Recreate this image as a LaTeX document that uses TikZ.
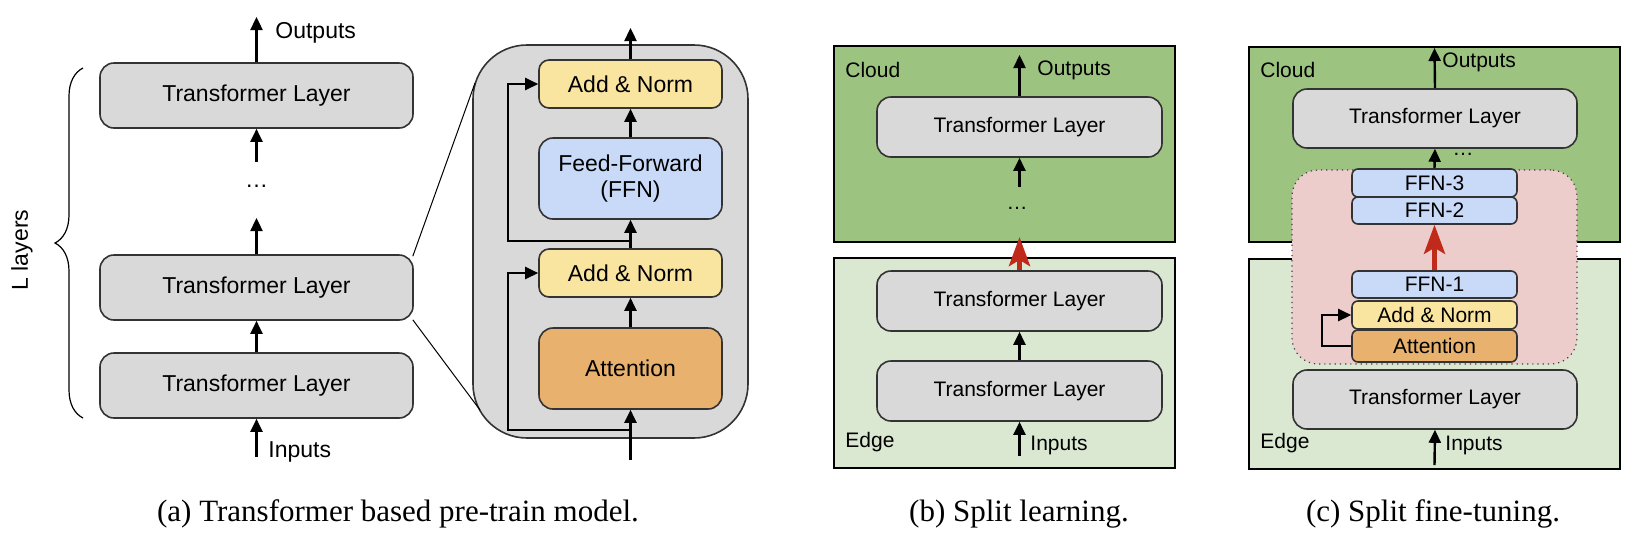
\documentclass[tikz,border=0pt]{standalone}
\usepackage{fontspec}
\setmainfont{Liberation Serif}
\setsansfont{Liberation Sans}
\usetikzlibrary{arrows.meta,decorations.pathreplacing,calc}
\definecolor{tlgray}{HTML}{D9D9D9}
\definecolor{anyel}{HTML}{F9E4A0}
\definecolor{ffnblue}{HTML}{C9DAF8}
\definecolor{attor}{HTML}{E8B16E}
\definecolor{cloudg}{HTML}{9DC381}
\definecolor{edgeg}{HTML}{DAE8D2}
\definecolor{pinkr}{HTML}{ECCDCB}
\definecolor{redc}{HTML}{C02A1A}
\begin{document}
\begin{tikzpicture}[x=0.5pt,y=-0.5pt,
  fa/.style={font=\sffamily\fontsize{11.5}{13}\selectfont},
  fb/.style={font=\sffamily\fontsize{10.5}{12}\selectfont},
  blk/.style={draw=black!80, line width=0.8pt, inner sep=0pt, align=center},
  tl/.style={blk, fill=tlgray, rounded corners=7pt},
  arr/.style={-{Triangle[length=6.5pt,width=6pt]}, line width=1.2pt},
  redarr/.style={-{Stealth[length=14.5pt,width=10.5pt,inset=3pt]}, line width=2.4pt, draw=redc},
  panel/.style={draw=black, line width=1.2pt, inner sep=0pt},
  captxt/.style={font=\fontsize{15.5}{18}\selectfont}
]
\useasboundingbox (0,0) rectangle (1649,537);

% ---------------- panel (a) ----------------
\node[tl, fa, minimum width=156.5pt, minimum height=32.5pt] (tlA3) at (256.5,95.5) {Transformer Layer};
\node[tl, fa, minimum width=156.5pt, minimum height=32.5pt] (tlA2) at (256.5,287.5) {Transformer Layer};
\node[tl, fa, minimum width=156.5pt, minimum height=32.5pt] (tlA1) at (256.5,385.5) {Transformer Layer};
\node[fa, inner sep=0pt] (dotsA) at (256.5,186) {\ldots};
\coordinate (dA1) at (256.5,162);
\coordinate (dA2) at (256.5,218);
\coordinate (outA) at (256.5,17);
\coordinate (inA) at (256.5,457);
\draw[arr] (tlA3.north) -- (outA);
\draw[arr] (dA1) -- (tlA3.south);
\draw[arr] (tlA2.north) -- (dA2);
\draw[arr] (tlA1.north) -- (tlA2.south);
\draw[arr] (inA) -- (tlA1.south);
\node[fa, anchor=west, inner sep=0pt] (outLA) at (275,33) {Outputs};
\node[fa, anchor=west, inner sep=0pt] (inLA) at (268,452) {Inputs};
\node[fa, rotate=90, inner sep=0pt] (lLay) at (22,250) {L layers};
\coordinate (brB) at (83,418);
\coordinate (brT) at (83,68);
\draw[decorate, decoration={brace, amplitude=14pt}, line width=0.6pt] (brB) -- (brT);

% zoomed block
\node[draw=black!80, line width=0.8pt, fill=tlgray, rounded corners=27pt, minimum width=137.5pt, minimum height=196.5pt, inner sep=0pt] (bigA) at (610.5,241.5) {};
\coordinate (zT) at (475,83);
\coordinate (zB) at (480,410);
\draw[line width=0.5pt] (tlA2.north east) ++(-1,2) -- (zT);
\draw[line width=0.5pt] (tlA2.south east) ++(-1,-1) -- (zB);

\node[blk, fill=anyel, rounded corners=5pt, fa, minimum width=91.5pt, minimum height=24pt] (an1) at (630.5,84) {Add \& Norm};
\node[blk, fill=ffnblue, rounded corners=7pt, fa, minimum width=91.5pt, minimum height=40.5pt] (ffn) at (630.5,178.5) {Feed-Forward\\(FFN)};
\node[blk, fill=anyel, rounded corners=5pt, fa, minimum width=91.5pt, minimum height=24pt] (an2) at (630.5,273) {Add \& Norm};
\node[blk, fill=attor, rounded corners=7pt, fa, minimum width=91.5pt, minimum height=40.5pt] (att) at (630.5,368.5) {Attention};
\coordinate (outZ) at (630.5,28);
\coordinate (inZ) at (630.5,460);
\coordinate (r1) at (630.5,430);
\coordinate (r2) at (630.5,241);
\draw[arr] (an1.north) -- (outZ);
\draw[arr] (ffn.north) -- (an1.south);
\draw[arr] (an2.north) -- (ffn.south);
\draw[arr] (att.north) -- (an2.south);
\draw[arr] (inZ) -- (att.south);
\draw[arr] (r1) -- ++(-122.5,0) |- (an2.west);
\draw[arr] (r2) -- ++(-122.5,0) |- (an1.west);

% ---------------- panel (b) ----------------
\node[panel, fill=cloudg, minimum width=170.5pt, minimum height=98pt] (cloudB) at (1004.5,144) {};
\node[panel, fill=edgeg, minimum width=170.5pt, minimum height=105pt] (edgeB) at (1004.5,363) {};
\node[fb, anchor=west, inner sep=0pt] (cloudLB) at (845,70) {Cloud};
\node[fb, anchor=west, inner sep=0pt] (edgeLB) at (845,442) {Edge};
\node[tl, fb, minimum width=142.5pt, minimum height=30pt] (tlB3) at (1019.5,127) {Transformer Layer};
\node[tl, fb, minimum width=142.5pt, minimum height=30pt] (tlB2) at (1019.5,301) {Transformer Layer};
\node[tl, fb, minimum width=142.5pt, minimum height=30pt] (tlB1) at (1019.5,391) {Transformer Layer};
\node[fb, inner sep=0pt] (dotsB) at (1017,208) {\ldots};
\coordinate (outB) at (1019.5,55);
\coordinate (dB1) at (1019.5,187);
\coordinate (redB) at (1019.5,237);
\coordinate (inB) at (1019.5,456);
\draw[arr] (tlB3.north) -- (outB);
\draw[arr] (dB1) -- (tlB3.south);
\draw[redarr] (tlB2.north) -- (redB);
\draw[arr] (tlB1.north) -- (tlB2.south);
\draw[arr] (inB) -- (tlB1.south);
\node[fb, anchor=west, inner sep=0pt] (outLB) at (1037,70) {Outputs};
\node[fb, anchor=west, inner sep=0pt] (inLB) at (1030,445) {Inputs};

% ---------------- panel (c) ----------------
\node[panel, fill=cloudg, minimum width=185.5pt, minimum height=97.5pt] (cloudC) at (1434.5,144.5) {};
\node[panel, fill=edgeg, minimum width=185.5pt, minimum height=105pt] (edgeC) at (1434.5,364) {};
\node[fb, anchor=west, inner sep=0pt] (cloudLC) at (1260,70) {Cloud};
\node[fb, anchor=west, inner sep=0pt] (edgeLC) at (1260,443) {Edge};
\node[draw=black!75, dotted, line width=0.6pt, fill=pinkr, rounded corners=13pt, minimum width=142.5pt, minimum height=97pt, inner sep=0pt] (pinkC) at (1434.5,267) {};
\node[tl, fb, minimum width=142pt, minimum height=29.5pt] (tlC2) at (1435,118.5) {Transformer Layer};
\node[tl, fb, minimum width=142pt, minimum height=29.5pt] (tlC1) at (1435,399.5) {Transformer Layer};
\node[blk, fill=ffnblue, rounded corners=3pt, fb, minimum width=82.5pt, minimum height=14pt] (ffn3) at (1434.5,183) {FFN-3};
\node[blk, fill=ffnblue, rounded corners=3pt, fb, minimum width=82.5pt, minimum height=13.5pt] (ffn2) at (1434.5,210.5) {FFN-2};
\node[blk, fill=ffnblue, rounded corners=3pt, fb, minimum width=82.5pt, minimum height=13.5pt] (ffn1) at (1434.5,284.5) {FFN-1};
\node[blk, fill=anyel, rounded corners=3pt, fb, minimum width=82.5pt, minimum height=14pt] (anC) at (1434.5,315) {Add \& Norm};
\node[blk, fill=attor, rounded corners=3pt, fb, minimum width=82.5pt, minimum height=16pt] (attC) at (1434.5,346) {Attention};
\node[fb, inner sep=0pt] (dotsC) at (1463,154) {\ldots};
\coordinate (outC) at (1434.5,48);
\coordinate (inC) at (1434.5,465);
\draw[arr] (tlC2.north) -- (outC);
\draw[arr] (ffn3.north) -- (tlC2.south);
\draw[redarr] (ffn1.north) -- (ffn2.south);
\draw[arr] (inC) -- (tlC1.south);
\draw[arr] (attC.west) -- ++(-29,0) |- (anC.west);
\node[fb, anchor=west, inner sep=0pt] (outLC) at (1442,62) {Outputs};
\node[fb, anchor=west, inner sep=0pt] (inLC) at (1445,445) {Inputs};

% ---------------- captions ----------------
\node[captxt] (capA) at (398,514) {(a) Transformer based pre-train model.};
\node[captxt] (capB) at (1019,514) {(b) Split learning.};
\node[captxt] (capC) at (1433,514) {(c) Split fine-tuning.};
\end{tikzpicture}
\end{document}
